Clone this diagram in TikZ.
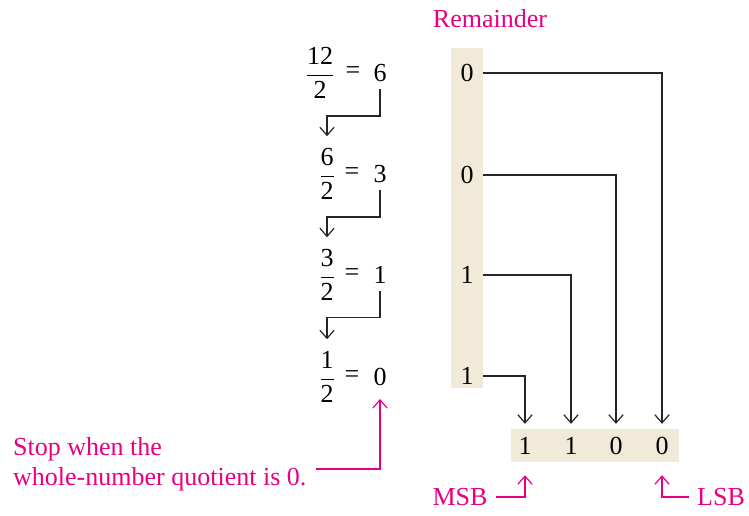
\documentclass[tikz,border=0pt]{standalone}
\usepackage{amsmath}
\usepackage{fontspec}
\setmainfont{Liberation Serif}
\usetikzlibrary{arrows.meta}
\definecolor{remfill}{RGB}{242,234,216}
\definecolor{notecol}{RGB}{232,0,130}
\begin{document}
\begin{tikzpicture}[x=1pt,y=-1pt,
every node/.style={inner sep=0pt,
  font=\fontsize{26}{30}\selectfont},
link/.style={line width=1.2pt,black!85,
  -{Straight Barb[length=8pt,width=14pt,line cap=round]}},
note/.style={text=notecol},
notelink/.style={line width=1.2pt,notecol,
  -{Straight Barb[length=8pt,width=14pt,line cap=round]}},
bit/.style={minimum height=33pt}
]
\useasboundingbox (0,0) rectangle (749,515);

\node (rembar) [fill=remfill,minimum width=32pt,minimum height=340pt] at (467,218) {};
\node (word) [fill=remfill,minimum width=168pt,minimum height=33pt] at (595,445.5) {};
\node (remlabel) [note] at (490,19) {Remainder};

\node (f1) at (320,73) {$\dfrac{\text{12}}{\text{2}}$};
\node (e1) at (353,73) {=};
\node (q1) at (380,73) {6};
\node (r1) at (467,73) {0};

\node (f2) at (327,174) {$\dfrac{\text{6}}{\text{2}}$};
\node (e2) at (352,174) {=};
\node (q2) at (380,174) {3};
\node (r2) at (467,175) {0};

\node (f3) at (327,275) {$\dfrac{\text{3}}{\text{2}}$};
\node (e3) at (352,275) {=};
\node (q3) at (380,275) {1};
\node (r3) at (467,275) {1};

\node (f4) at (327,377) {$\dfrac{\text{1}}{\text{2}}$};
\node (e4) at (352,377) {=};
\node (q4) at (380,377) {0};
\node (r4) at (467,376) {1};

\node (b3) [bit] at (525,445.5) {1};
\node (b2) [bit] at (571,445.5) {1};
\node (b1) [bit] at (616,445.5) {0};
\node (b0) [bit] at (662,445.5) {0};

\node (msb) [note] at (460,497) {MSB};
\node (lsb) [note] at (721,497) {LSB};
\node (stop) [note,align=left,anchor=north west] at (13,437) {Stop when the\\whole-number quotient is 0.};
\coordinate (stopend) at (316,469);

\draw [link,shorten <=7pt,shorten >=12pt] (q1.south) -- ++(0,34) -| (f2.north);
\draw [link,shorten <=7pt,shorten >=12pt] (q2.south) -- ++(0,34) -| (f3.north);
\draw [link,shorten <=7pt,shorten >=12pt] (q3.south) -- ++(0,34) -| (f4.north);

\draw [link,shorten >=5pt] (r1 -| rembar.east) -| (b0.north);
\draw [link,shorten >=5pt] (r2 -| rembar.east) -| (b1.north);
\draw [link,shorten >=5pt] (r3 -| rembar.east) -| (b2.north);
\draw [link,shorten >=5pt] (r4 -| rembar.east) -| (b3.north);

\draw [notelink,shorten <=8pt,shorten >=13pt] (msb.east) -| (b3.south);
\draw [notelink,shorten <=8pt,shorten >=13pt] (lsb.west) -| (b0.south);
\draw [notelink,shorten >=13pt] (stopend) -| (q4.south);

\end{tikzpicture}
\end{document}
